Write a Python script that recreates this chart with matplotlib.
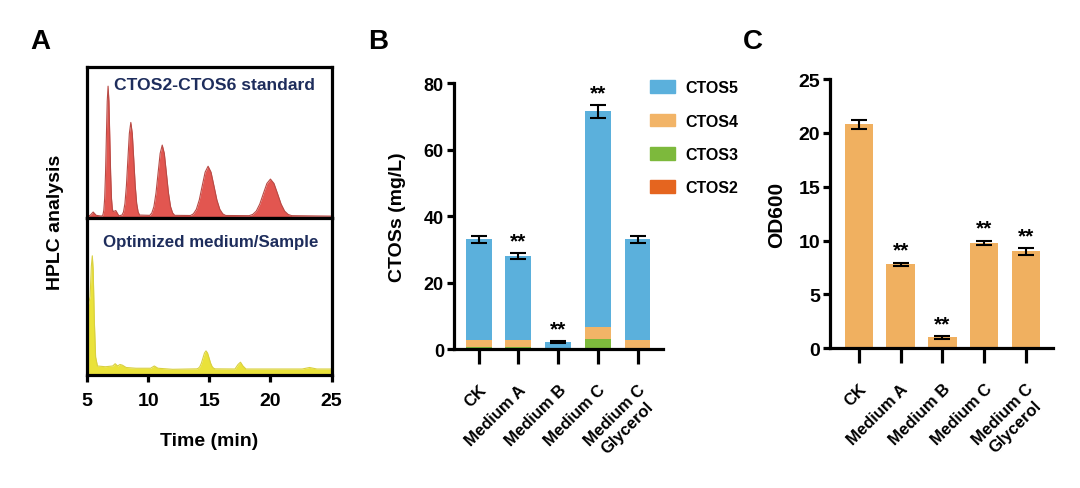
import numpy as np
import matplotlib.pyplot as plt
from matplotlib.patches import Patch

plt.rcParams['font.family'] = ['Liberation Sans', 'DejaVu Sans']
plt.rcParams['font.weight'] = 'bold'
plt.rcParams['axes.labelweight'] = 'bold'

# ---------------- data ----------------
# panel A: traced chromatograms (time in min, intensity in arbitrary units)
std_time = [5.0, 5.25, 5.5, 5.75, 6.2,
            6.30, 6.37, 6.44, 6.51, 6.58, 6.65, 6.72, 6.79, 6.86, 6.93, 7.00, 7.07, 7.14, 7.35, 7.6,
            7.86, 7.98, 8.10, 8.22, 8.34, 8.46, 8.58, 8.70, 8.82, 8.94, 9.06, 9.18, 9.30,
            10.13, 10.30, 10.47, 10.64, 10.81, 10.98, 11.15, 11.32, 11.49, 11.66, 11.83, 12.00, 12.17,
            13.46, 13.70, 13.94, 14.18, 14.42, 14.66, 14.90, 15.14, 15.38, 15.62, 15.86, 16.10, 16.34,
            18.26, 18.55, 18.84, 19.13, 19.42, 19.71, 20.00, 20.29, 20.58, 20.87, 21.16, 21.45, 21.74,
            25.0]
std_signal = [1.3, 1.8, 4.0, 1.8, 1.3,
              2.2, 5.1, 12.9, 29.3, 53.5, 77.2, 87.3, 77.2, 53.5, 29.3, 12.9, 6.0, 4.2, 5.0, 1.5,
              2.0, 4.0, 9.7, 21.5, 38.9, 56.0, 63.3, 56.0, 38.9, 21.5, 9.7, 4.0, 2.0,
              1.8, 3.4, 7.6, 16.6, 29.8, 42.8, 48.3, 42.8, 29.8, 16.6, 7.6, 3.4, 1.8,
              1.7, 2.8, 5.8, 12.0, 21.3, 30.4, 34.3, 30.4, 21.3, 12.0, 5.8, 2.8, 1.7,
              1.6, 2.4, 4.6, 9.3, 16.2, 22.9, 25.8, 22.9, 16.2, 9.3, 4.6, 2.4, 1.6,
              1.3]

smp_time = [5.0, 5.1, 5.25, 5.35, 5.43, 5.5, 5.6, 5.7, 5.85, 6.5, 7.1, 7.3, 7.5, 7.7, 7.9, 8.2,
            9.0, 10.2, 10.5, 10.8, 12.0,
            13.98, 14.105, 14.23, 14.355, 14.48, 14.605, 14.73, 14.855, 14.98, 15.105, 15.23, 15.355, 15.48,
            17.1, 17.35, 17.55, 17.75, 18.0, 22.6, 23.2, 23.8, 25.0]
smp_signal = [55, 46, 52, 72, 79, 70, 35, 12, 6, 5.5, 6, 7.5, 6, 7, 6.5, 5,
              4.5, 4.5, 6, 4.5, 3.8,
              4.1, 4.5, 5.6, 7.9, 11.3, 14.6, 16.0, 14.6, 11.3, 7.9, 5.6, 4.5, 4.1,
              4, 7, 8.5, 6, 4, 4, 5, 4, 4]

# panels B and C
groups = ['CK', 'Medium A', 'Medium B', 'Medium C', 'Medium C\nGlycerol']
ctos2 = [0.0, 0.0, 0.0, 0.2, 0.0]
ctos3 = [0.6, 0.6, 0.0, 2.8, 0.2]
ctos4 = [2.2, 2.2, 0.0, 3.6, 2.6]
ctos5 = [30.2, 25.2, 2.1, 64.9, 30.2]
ctos_err = [1.1, 1.0, 0.3, 2.0, 1.0]
ctos_sig = ['', '**', '**', '**', '']

od600 = [20.8, 7.8, 1.0, 9.8, 9.0]
od600_err = [0.4, 0.15, 0.12, 0.2, 0.3]
od600_sig = ['', '**', '**', '**', '**']

# ---------------- style ----------------
C_BLUE = '#5BB0DC'
C_ORANGE = '#F2B467'
C_GREEN = '#7DB93C'
C_RED = '#E5651F'
C_BAR = '#F0B060'
NAVY = '#1E2D5C'
LW = 2.3

fig = plt.figure(figsize=(10.8, 4.89), dpi=100)


def style_bar_axes(ax, ysize):
    for s in ['top', 'right']:
        ax.spines[s].set_visible(False)
    for s in ['left', 'bottom']:
        ax.spines[s].set_linewidth(LW)
    ax.tick_params(axis='y', length=5, width=LW, labelsize=ysize, pad=2)
    ax.tick_params(axis='x', length=10.5, width=LW, labelsize=12, pad=13)
    for lab in ax.get_xticklabels() + ax.get_yticklabels():
        lab.set_fontweight('bold')


# ---------------- panel A ----------------
axT = fig.add_axes([0.0806, 0.552, 0.2264, 0.309])
axS = fig.add_axes([0.0806, 0.231, 0.2264, 0.321])

axT.fill_between(std_time, 0, std_signal, color='#E25650', lw=0)
axT.plot(std_time, std_signal, color='#B84A45', lw=0.8)
axT.set_ylim(0, 100)
axT.text(0.52, 0.887, 'CTOS2-CTOS6 standard', transform=axT.transAxes,
         ha='center', va='center', color=NAVY, fontsize=12.6, fontweight='bold')

axS.fill_between(smp_time, 0, smp_signal, color='#EAE23A', lw=0)
axS.plot(smp_time, smp_signal, color='#D9D040', lw=0.8)
axS.set_ylim(0, 104)
axS.text(0.506, 0.853, 'Optimized medium/Sample', transform=axS.transAxes,
         ha='center', va='center', color=NAVY, fontsize=12.2, fontweight='bold')

for ax in (axT, axS):
    ax.set_xlim(5, 25)
    ax.set_yticks([])
    for s in ax.spines.values():
        s.set_linewidth(LW)
axT.set_xticks([])
axS.set_xticks([5, 10, 15, 20, 25])
axS.tick_params(axis='x', length=5, width=LW, labelsize=14, pad=7)
for lab in axS.get_xticklabels():
    lab.set_fontweight('bold')
axS.set_xlabel('Time (min)', fontsize=14, fontweight='bold', labelpad=17)
fig.text(55 / 1080, 1 - 222 / 489, 'HPLC analysis', rotation=90, ha='center',
         va='center', fontsize=14, fontweight='bold')

# ---------------- panel B ----------------
axB = fig.add_axes([0.420, 0.284, 0.1935, 0.544])
x = np.arange(len(groups))
bw = 0.65
bottom = np.zeros(len(groups))
for vals, col in [(ctos2, C_RED), (ctos3, C_GREEN), (ctos4, C_ORANGE), (ctos5, C_BLUE)]:
    axB.bar(x, vals, bw, bottom=bottom, color=col, lw=0)
    bottom += np.array(vals)
axB.errorbar(x, bottom, yerr=ctos_err, fmt='none', ecolor='black', elinewidth=1.5,
             capsize=6, capthick=1.5)
for xi, tot, e, s in zip(x, bottom, ctos_err, ctos_sig):
    if s:
        axB.annotate(s, (xi, tot + e), xytext=(0, 2), textcoords='offset points',
                     ha='center', va='bottom', fontsize=15, fontweight='bold')
axB.set_xlim(-0.63, 4.63)
axB.set_ylim(0, 80)
axB.set_yticks([0, 20, 40, 60, 80])
axB.set_xticks(x)
axB.set_xticklabels(groups, rotation=45, ha='right', rotation_mode='anchor',
                    multialignment='center')
axB.set_ylabel('CTOSs (mg/L)', fontsize=14, fontweight='bold', labelpad=13)
style_bar_axes(axB, 13)

handles = [Patch(color=C_BLUE, label='CTOS5'), Patch(color=C_ORANGE, label='CTOS4'),
           Patch(color=C_GREEN, label='CTOS3'), Patch(color=C_RED, label='CTOS2')]
leg = fig.legend(handles=handles, loc='upper left', bbox_to_anchor=(0.602, 0.834),
                 frameon=False, fontsize=11.5, handlelength=1.55, handleheight=0.85,
                 handletextpad=0.65, labelspacing=1.15, borderpad=0, borderaxespad=0)
for t in leg.get_texts():
    t.set_fontweight('bold')

# ---------------- panel C ----------------
axC = fig.add_axes([0.7685, 0.286, 0.2065, 0.550])
axC.bar(x, od600, 0.68, color=C_BAR, lw=0)
axC.errorbar(x, od600, yerr=od600_err, fmt='none', ecolor='black', elinewidth=1.5,
             capsize=6, capthick=1.5)
for xi, v, e, s in zip(x, od600, od600_err, od600_sig):
    if s:
        axC.annotate(s, (xi, v + e), xytext=(0, 2), textcoords='offset points',
                     ha='center', va='bottom', fontsize=15, fontweight='bold')
axC.set_xlim(-0.69, 4.65)
axC.set_ylim(0, 25)
axC.set_yticks([0, 5, 10, 15, 20, 25])
axC.set_xticks(x)
axC.set_xticklabels(groups, rotation=45, ha='right', rotation_mode='anchor',
                    multialignment='center')
axC.set_ylabel('OD600', fontsize=15, fontweight='bold', labelpad=9)
style_bar_axes(axC, 14)

# panel letters
for lx, letter in [(40, 'A'), (378, 'B'), (753, 'C')]:
    fig.text(lx / 1080, 1 - 42 / 489, letter, ha='center', va='center',
             fontsize=20, fontweight='bold')

fig.savefig('out.png', dpi=100)
